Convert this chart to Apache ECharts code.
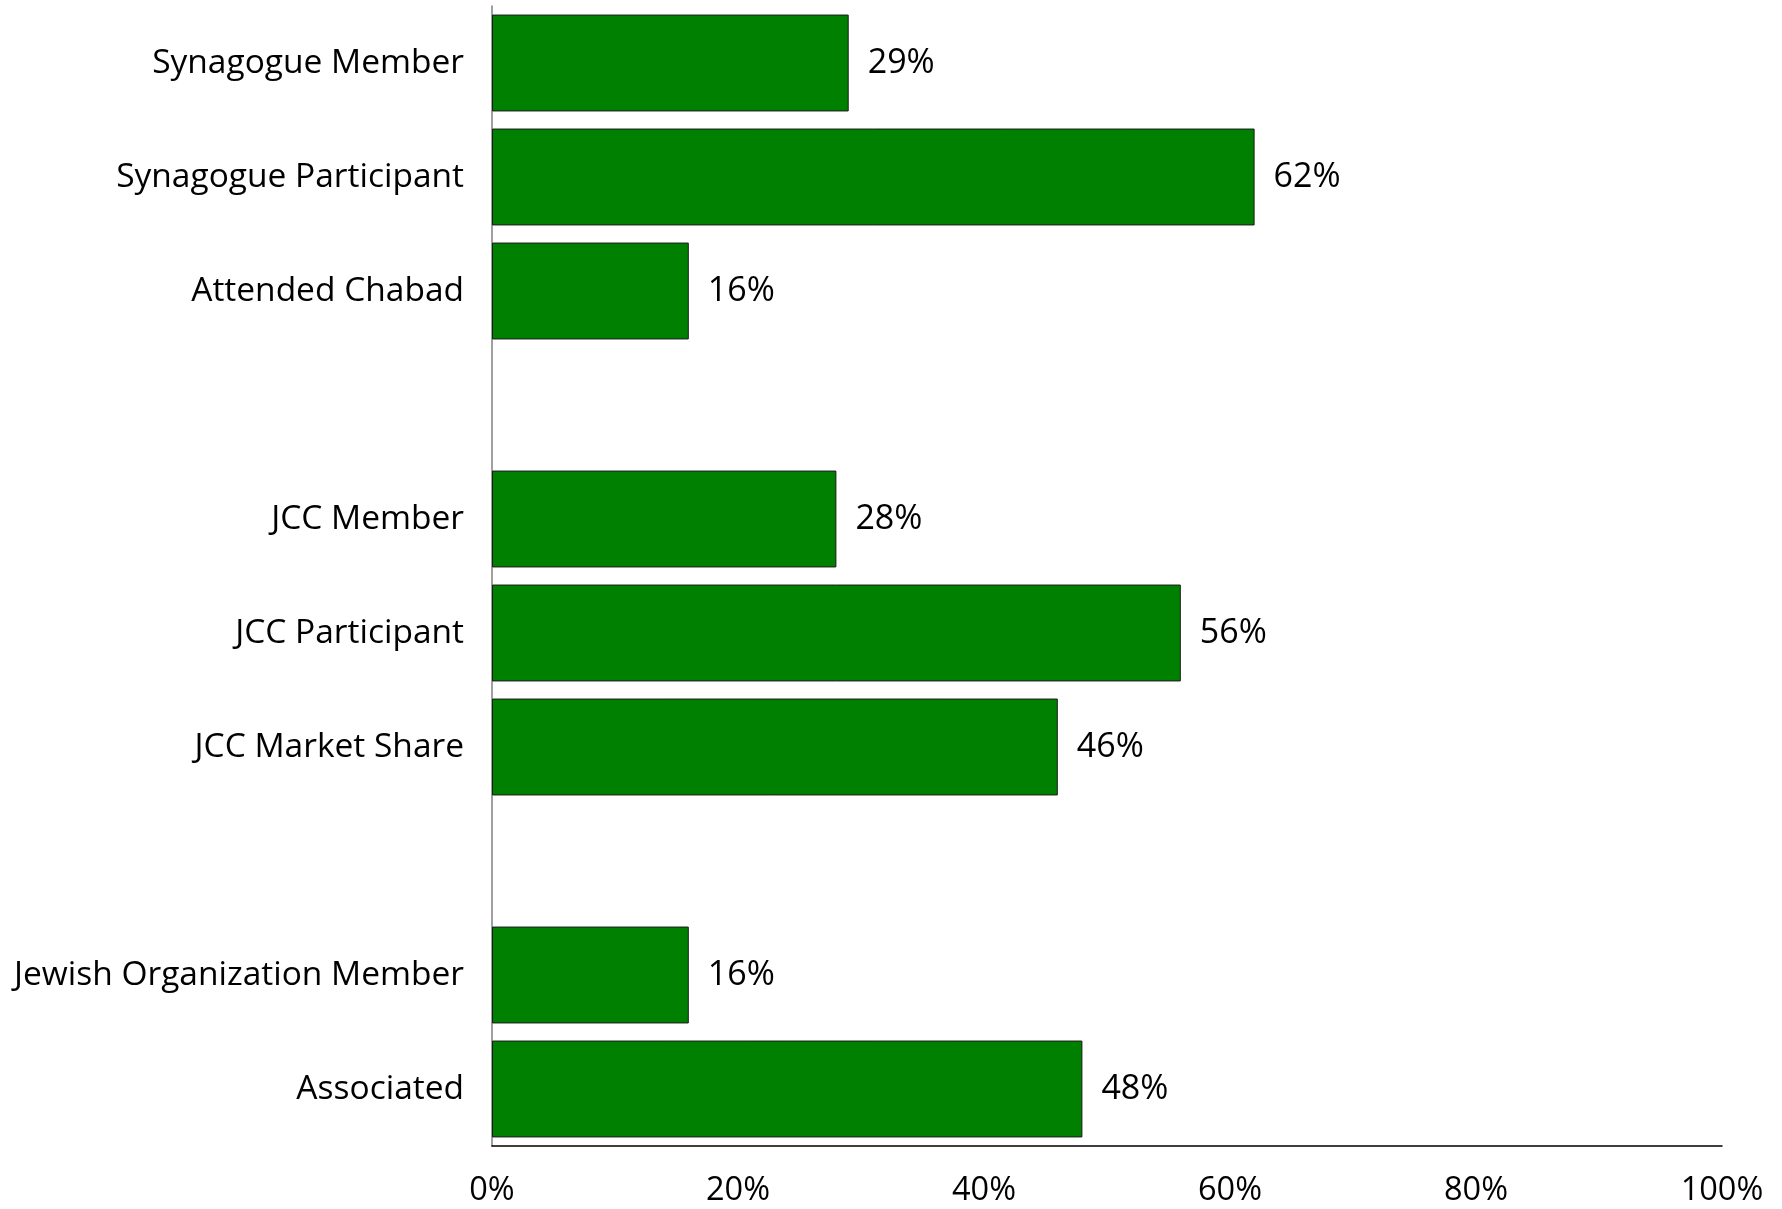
<!DOCTYPE html>
<html>
<head>
<meta charset="utf-8">
<script src="https://cdn.jsdelivr.net/npm/echarts@6/dist/echarts.min.js"></script>
<style>
  html, body { margin: 0; padding: 0; background: #fff; }
  #chart { width: 1782px; height: 1209px; }
</style>
</head>
<body>
<div id="chart"></div>
<script>
// categories top to bottom, blanks are the gaps between groups
var categories = ['Synagogue Member', 'Synagogue Participant', 'Attended Chabad', '',
  'JCC Member', 'JCC Participant', 'JCC Market Share', ' ',
  'Jewish Organization Member', 'Associated'];
var percents = [29, 62, 16, null, 28, 56, 46, null, 16, 48];
var xTicks = [0, 20, 40, 60, 80, 100];

const drawChart = chartId => {
  let myChart = echarts.init(document.getElementById(chartId), null, { renderer: 'canvas' });
  let fontFam = '"Open Sans", Lato, sans-serif';

  let option = {
    animation: false,
    backgroundColor: '#ffffff',
    grid: {
      left: 492,
      right: 60,
      top: 6,
      bottom: 63
    },
    xAxis: {
      type: 'value',
      min: xTicks[0],
      max: xTicks[xTicks.length - 1],
      interval: 20,
      splitLine: { show: false },
      axisTick: { show: false },
      axisLine: { show: true, lineStyle: { color: '#000', width: 1.5 } },
      axisLabel: {
        formatter: '{value}%',
        margin: 28,
        color: '#000',
        fontSize: 32.5,
        fontFamily: fontFam
      }
    },
    yAxis: {
      type: 'category',
      inverse: true,
      data: categories,
      axisTick: { show: false },
      axisLine: { show: true, lineStyle: { color: '#808080', width: 1.5 } },
      axisLabel: {
        margin: 28,
        padding: [5, 0, 0, 0],
        color: '#000',
        fontSize: 33.5,
        fontFamily: fontFam
      }
    },
    series: [
      {
        type: 'bar',
        data: percents,
        barCategoryGap: '15%',
        itemStyle: {
          color: '#008000',
          borderColor: '#1a1a1a',
          borderWidth: 1
        },
        label: {
          show: true,
          position: 'right',
          distance: 19,
          padding: [5, 0, 0, 0],
          formatter: '{c}%',
          color: '#000',
          fontSize: 34,
          fontFamily: fontFam
        }
      }
    ]
  };

  option && myChart.setOption(option);
};

drawChart('chart');
</script>
</body>
</html>
